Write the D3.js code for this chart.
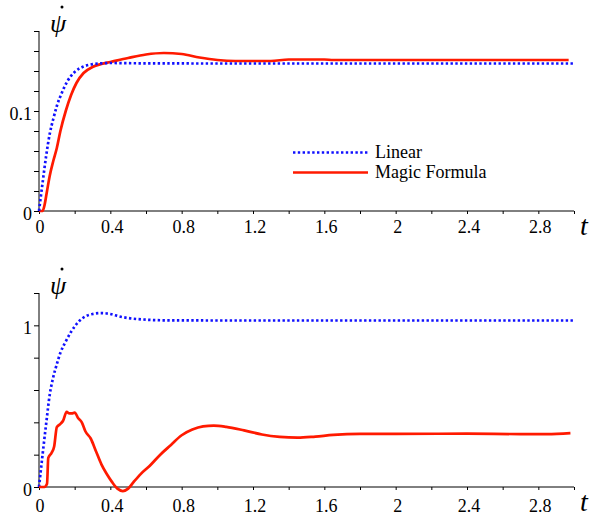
<!DOCTYPE html>
<html>
<head>
<meta charset="utf-8">
<script src="https://cdn.jsdelivr.net/npm/d3@7"></script>
<style>
	body { margin: 0; background: #fff; }
</style>
</head>
<body>
<svg width="589" height="517"></svg>
<script>
// time points and values
var topLinearT = [0, 0.02, 0.04, 0.06, 0.08, 0.1, 0.13, 0.16, 0.2, 0.25, 0.3, 0.35, 0.4, 0.5, 0.7, 1.0, 1.5, 2.0, 2.5, 3.0];
var topLinearV = [0, 0.028, 0.055, 0.077, 0.092, 0.105, 0.119, 0.130, 0.139, 0.1445, 0.1468, 0.1477, 0.148, 0.1478, 0.1476, 0.1475, 0.1475, 0.1475, 0.1475, 0.1475];

var topMagicT = [0, 0.02, 0.03, 0.045, 0.06, 0.08, 0.1, 0.12, 0.15, 0.18, 0.21, 0.25, 0.3, 0.35, 0.4, 0.5, 0.6, 0.7, 0.8, 0.9, 1.0, 1.1, 1.3, 1.4, 1.6, 1.65, 2.0, 2.5, 2.97];
var topMagicV = [0, 0, 0.005, 0.02, 0.035, 0.05, 0.063, 0.08, 0.1, 0.116, 0.128, 0.138, 0.144, 0.147, 0.149, 0.153, 0.1565, 0.158, 0.157, 0.1535, 0.151, 0.150, 0.150, 0.1515, 0.1515, 0.151, 0.151, 0.151, 0.151];

var botLinearT = [0, 0.02, 0.04, 0.06, 0.08, 0.1, 0.12, 0.15, 0.18, 0.22, 0.26, 0.3, 0.35, 0.4, 0.45, 0.5, 0.6, 0.7, 1.0, 1.5, 2.0, 2.5, 3.0];
var botLinearV = [0, 0.2, 0.39, 0.57, 0.68, 0.76, 0.83, 0.9, 0.96, 1.02, 1.055, 1.07, 1.076, 1.07, 1.055, 1.045, 1.035, 1.031, 1.03, 1.03, 1.03, 1.03, 1.03];

var botMagicT = [0, 0.03, 0.045, 0.052, 0.07, 0.085, 0.1, 0.12, 0.135, 0.155, 0.17, 0.185, 0.2, 0.22, 0.24, 0.26, 0.29, 0.32, 0.35, 0.38, 0.41, 0.44, 0.47, 0.5, 0.53, 0.57, 0.62, 0.68, 0.74, 0.8, 0.86, 0.92, 0.98, 1.05, 1.15, 1.25, 1.35, 1.45, 1.55, 1.65, 1.8, 2.0, 2.4, 2.7, 2.85, 2.98];
var botMagicV = [0, 0, 0.02, 0.18, 0.21, 0.25, 0.37, 0.39, 0.41, 0.465, 0.455, 0.455, 0.46, 0.425, 0.4, 0.345, 0.3, 0.22, 0.14, 0.08, 0.03, -0.01, -0.025, -0.01, 0.03, 0.08, 0.13, 0.2, 0.26, 0.32, 0.355, 0.375, 0.38, 0.372, 0.35, 0.325, 0.31, 0.305, 0.312, 0.322, 0.328, 0.328, 0.33, 0.327, 0.327, 0.333];

var xTicks = d3.range(0, 3.0001, 0.2);
var xLabels = [0, 0.4, 0.8, 1.2, 1.6, 2, 2.4, 2.8];
var topYTicks = d3.range(0, 0.1801, 0.02);
var topYLabels = [0, 0.1];
var botYTicks = d3.range(0, 1.2001, 0.2);
var botYLabels = [0, 1];

var legendNames = ['Linear', 'Magic Formula'];

var svg = d3.select('svg');
var serif = 'Liberation Serif';
var blue = '#1010ff', red = '#ff1a00';

var drawPanel = function(yTop, yBottom, yMax, yTicks, yLabels, labelGap, series){
	var x = d3.scaleLinear().domain([0, 3]).range([39, 574]);
	var y = d3.scaleLinear().domain([0, yMax]).range([yBottom, yTop]);
	var g = svg.append('g');

	// x axis
	var xa = g.append('g').attr('transform', 'translate(0,' + yBottom + ')')
		.call(d3.axisBottom(x).tickValues(xTicks).tickSize(3).tickFormat(''));
	xa.select('.domain').attr('d', 'M39,0H574');
	g.selectAll('.xlab').data(xLabels).enter().append('text')
		.attr('x', function(d){ return x(d) + (d ? 2 : 1); })
		.attr('y', yBottom + labelGap)
		.attr('text-anchor', 'middle')
		.attr('font-family', serif)
		.attr('font-size', 18)
		.text(function(d){ return String(d); });

	// y axis
	var ya = g.append('g').attr('transform', 'translate(39,0)')
		.call(d3.axisLeft(y).tickValues(yTicks).tickSize(5).tickFormat(''));
	ya.select('.domain').attr('d', 'M0,' + yTop + 'V' + yBottom);
	g.selectAll('.ylab').data(yLabels).enter().append('text')
		.attr('x', 32)
		.attr('y', function(d){ return y(d) + 9; })
		.attr('text-anchor', 'end')
		.attr('font-family', serif)
		.attr('font-size', 18)
		.text(function(d){ return String(d); });

	g.selectAll('.tick line').attr('stroke', '#000');
	g.selectAll('.domain').attr('stroke', '#000');

	// axis titles (psi with a dot drawn over it)
	g.append('text').attr('x', 580).attr('y', yBottom + 24)
		.attr('font-family', serif).attr('font-size', 28).attr('font-style', 'italic').text('t');
	g.append('text').attr('x', 50).attr('y', yTop + 1)
		.attr('font-family', serif).attr('font-size', 26).attr('font-style', 'italic').text('\u03C8');
	g.append('circle').attr('cx', 62).attr('cy', yTop - 24).attr('r', 1.5).attr('fill', '#000');

	var line = d3.line()
		.x(function(d){ return x(d[0]); })
		.y(function(d){ return y(d[1]); })
		.curve(d3.curveMonotoneX);

	series.forEach(function(s){
		var pts = d3.zip(s.t, s.v);
		g.append('path').attr('d', line(pts))
			.attr('fill', 'none')
			.attr('stroke', s.color)
			.attr('stroke-width', 2.7)
			.attr('stroke-dasharray', s.dash ? '2.4,2.4' : null);
	});
};

drawPanel(31, 211, 0.18, topYTicks, topYLabels, 22, [
	{t: topMagicT, v: topMagicV, color: red},
	{t: topLinearT, v: topLinearV, color: blue, dash: true}
]);
drawPanel(293, 487, 1.2, botYTicks, botYLabels, 25, [
	{t: botLinearT, v: botLinearV, color: blue, dash: true},
	{t: botMagicT, v: botMagicV, color: red}
]);

// legend
var leg = svg.append('g');
leg.selectAll('line').data(legendNames).enter().append('line')
	.attr('x1', 293).attr('x2', 368)
	.attr('y1', function(d, i){ return 152.5 + i * 20; })
	.attr('y2', function(d, i){ return 152.5 + i * 20; })
	.attr('stroke', function(d, i){ return i ? red : blue; })
	.attr('stroke-width', 2.7)
	.attr('stroke-dasharray', function(d, i){ return i ? null : '2.4,2.4'; });
leg.selectAll('text').data(legendNames).enter().append('text')
	.attr('x', 375)
	.attr('y', function(d, i){ return 158 + i * 20; })
	.attr('font-family', serif)
	.attr('font-size', 18)
	.text(function(d){ return d; });
</script>
</body>
</html>
